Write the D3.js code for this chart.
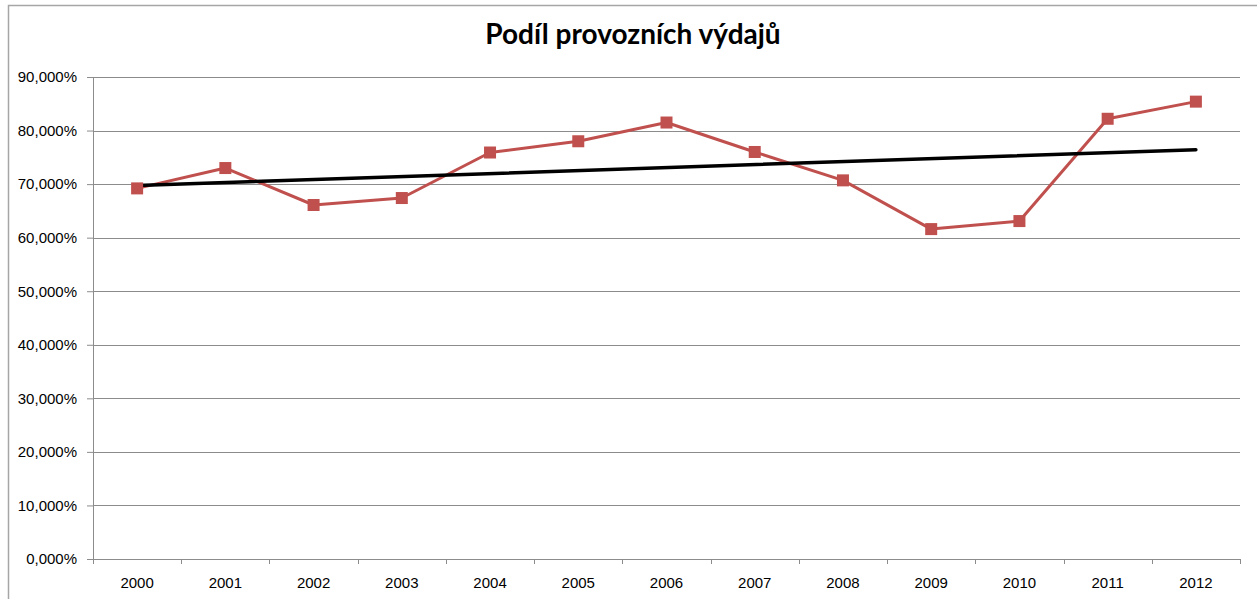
<!DOCTYPE html>
<html>
<head>
<meta charset="utf-8">
<script src="https://cdn.jsdelivr.net/npm/d3@7"></script>
<style>
  body { margin: 0; background: #fff; }
  svg { display: block; font-family: Lato, "Open Sans", sans-serif; }
</style>
</head>
<body>
<div id="chart"></div>
<script>
// data
var years = ["2000", "2001", "2002", "2003", "2004", "2005", "2006", "2007", "2008", "2009", "2010", "2011", "2012"];
var shares = [69.2, 73.0, 66.1, 67.4, 75.9, 78.0, 81.5, 76.0, 70.7, 61.6, 63.1, 82.2, 85.4];
var yTicks = [0, 10, 20, 30, 40, 50, 60, 70, 80, 90];

var svgWidth = 1257;
var svgHeight = 599;

var margin = { top: 77, right: 17, bottom: 40, left: 93 };
var width = svgWidth - margin.left - margin.right;
var height = svgHeight - margin.top - margin.bottom;

var svg = d3.select("#chart")
  .append("svg")
  .attr("width", svgWidth)
  .attr("height", svgHeight);

// outer chart border
svg.append("rect")
  .attr("x", 8.5)
  .attr("y", 5.5)
  .attr("width", svgWidth)
  .attr("height", svgHeight)
  .attr("fill", "none")
  .attr("stroke", "#a6a6a6")
  .attr("stroke-width", 1.5);

svg.append("text")
  .attr("x", 633)
  .attr("y", 44)
  .attr("text-anchor", "middle")
  .attr("font-size", 28)
  .attr("font-weight", "bold")
  .attr("fill", "#000")
  .text("Podíl provozních výdajů");

var chartGroup = svg.append("g")
  .attr("transform", `translate(${margin.left}, ${margin.top})`);

var xScale = d3.scaleBand()
  .domain(years)
  .range([0, width]);

var yScale = d3.scaleLinear()
  .domain([0, 90])
  .range([height, 0]);

// gridlines
chartGroup.append("g")
  .selectAll("line")
  .data(yTicks.filter(d => d > 0))
  .enter()
  .append("line")
  .attr("x1", 0)
  .attr("x2", width)
  .attr("y1", d => Math.round(yScale(d)) + 0.5)
  .attr("y2", d => Math.round(yScale(d)) + 0.5)
  .attr("stroke", "#8c8c8c")
  .attr("stroke-width", 1);

// y axis
var leftAxis = d3.axisLeft(yScale)
  .tickValues(yTicks)
  .tickSize(6)
  .tickPadding(10)
  .tickFormat(d => d + ",000%");

var yAxis = chartGroup.append("g").call(leftAxis);
yAxis.select(".domain").attr("stroke", "#8c8c8c").attr("d", `M0.5,0V${height}`);
yAxis.selectAll(".tick line").attr("stroke", "#8c8c8c");
yAxis.selectAll("text").attr("font-size", 15).attr("fill", "#000");

// x axis
var bottomAxis = d3.axisBottom(xScale).tickSize(0).tickPadding(18);
var xAxis = chartGroup.append("g")
  .attr("transform", `translate(0, ${height})`)
  .call(bottomAxis);
xAxis.select(".domain").attr("stroke", "#8c8c8c");
xAxis.selectAll("text").attr("font-size", 15).attr("fill", "#000");

// category tick marks at band boundaries
chartGroup.append("g")
  .selectAll("line")
  .data(years.concat(["end"]))
  .enter()
  .append("line")
  .attr("x1", (d, i) => Math.round(i * xScale.step()) + 0.5)
  .attr("x2", (d, i) => Math.round(i * xScale.step()) + 0.5)
  .attr("y1", height)
  .attr("y2", height + 5)
  .attr("stroke", "#8c8c8c");

var cx = d => xScale(d) + xScale.bandwidth() / 2;

// data line
var line = d3.line()
  .x((d, i) => cx(years[i]))
  .y(d => yScale(d));

chartGroup.append("path")
  .datum(shares)
  .attr("d", line)
  .attr("fill", "none")
  .attr("stroke", "#c0504d")
  .attr("stroke-width", 3)
  .attr("stroke-linejoin", "round");

// linear trend line (least squares over the series)
var n = shares.length;
var meanX = (n - 1) / 2;
var meanY = d3.mean(shares);
var sxy = d3.sum(shares, (d, i) => (i - meanX) * (d - meanY));
var sxx = d3.sum(shares, (d, i) => (i - meanX) * (i - meanX));
var slope = sxy / sxx;
var intercept = meanY - slope * meanX;

chartGroup.append("line")
  .attr("x1", cx(years[0]))
  .attr("x2", cx(years[n - 1]))
  .attr("y1", yScale(intercept))
  .attr("y2", yScale(intercept + slope * (n - 1)))
  .attr("stroke", "#000")
  .attr("stroke-width", 3.5)
  .attr("stroke-linecap", "round");

// square markers
chartGroup.selectAll(".marker")
  .data(shares)
  .enter()
  .append("rect")
  .attr("class", "marker")
  .attr("x", (d, i) => cx(years[i]) - 6)
  .attr("y", d => yScale(d) - 6)
  .attr("width", 12)
  .attr("height", 12)
  .attr("fill", "#c0504d");
</script>
</body>
</html>
